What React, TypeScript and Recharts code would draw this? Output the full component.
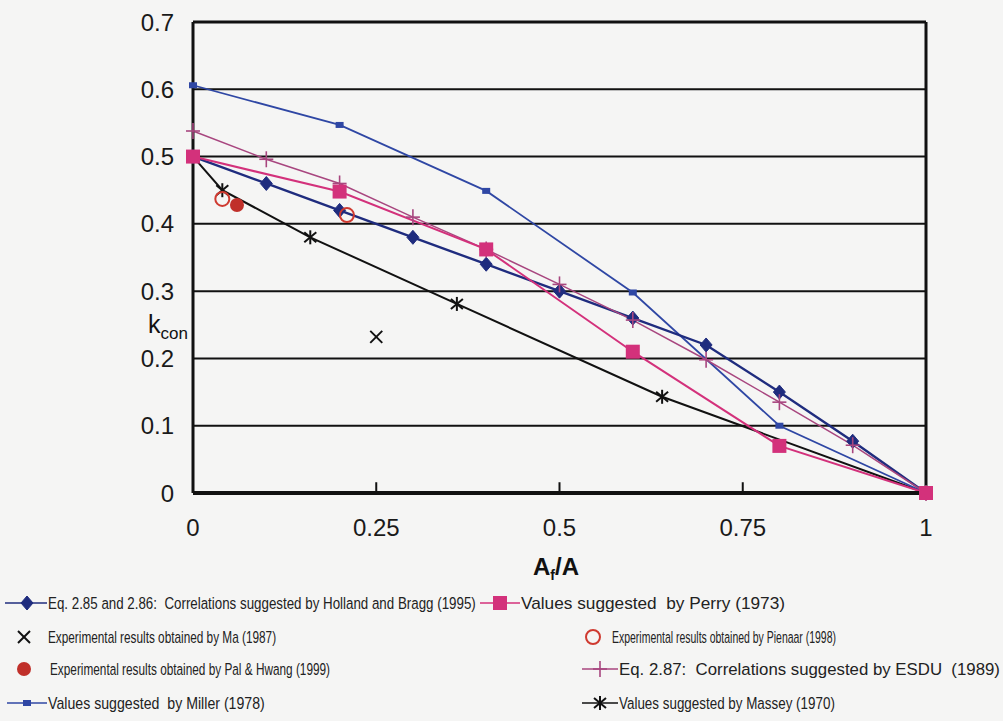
import React, { useLayoutEffect, useRef, useState } from "react";
import {
  ComposedChart,
  Line,
  Scatter,
  XAxis,
  YAxis,
  CartesianGrid,
  ReferenceLine,
} from "recharts";

// axis ticks
const X_TICKS = [0, 0.25, 0.5, 0.75, 1];
const Y_TICKS = [0, 0.1, 0.2, 0.3, 0.4, 0.5, 0.6, 0.7];

// A_f/A and k_con for each source
const hollandX = [0, 0.1, 0.2, 0.3, 0.4, 0.5, 0.6, 0.7, 0.8, 0.9, 1];
const hollandK = [0.5, 0.46, 0.42, 0.38, 0.34, 0.3, 0.26, 0.22, 0.15, 0.077, 0];

const esduX = [0, 0.1, 0.2, 0.3, 0.4, 0.5, 0.6, 0.7, 0.8, 0.9, 1];
const esduK = [0.538, 0.496, 0.46, 0.41, 0.362, 0.31, 0.257, 0.198, 0.135, 0.071, 0];

const perryX = [0, 0.2, 0.4, 0.6, 0.8, 1];
const perryK = [0.5, 0.448, 0.362, 0.21, 0.07, 0];

const millerX = [0, 0.2, 0.4, 0.6, 0.8, 1];
const millerK = [0.606, 0.547, 0.449, 0.298, 0.1, 0];

const masseyX = [0, 0.04, 0.16, 0.36, 0.64, 1];
const masseyK = [0.5, 0.45, 0.38, 0.281, 0.143, 0];

const maX = [0.25];
const maK = [0.232];

const pienaarX = [0.04, 0.21];
const pienaarK = [0.437, 0.413];

const palX = [0.06];
const palK = [0.428];

const toPoints = (xs: number[], ks: number[]) => xs.map((x, i) => ({ x, k: ks[i] }));

const NAVY = "#1f2c7e";
const BLUE = "#2f47a4";
const MAGENTA = "#d3317b";
const PINK = "#a8467f";
const RED = "#cf3a30";
const DARKRED = "#c0302a";
const BLACK = "#111";

const FONT = "'Liberation Sans', Arial, sans-serif";

type MarkerKind =
  | "diamond"
  | "square"
  | "smallSquare"
  | "plus"
  | "star"
  | "cross"
  | "circle"
  | "dot";

function Marker({ kind, x, y, color }: { kind: MarkerKind; x: number; y: number; color: string }) {
  switch (kind) {
    case "diamond":
      return (
        <polygon
          points={`${x},${y - 7} ${x + 6},${y} ${x},${y + 7} ${x - 6},${y}`}
          fill={color}
          stroke={color}
        />
      );
    case "square":
      return <rect x={x - 7} y={y - 7} width={14} height={14} fill={color} />;
    case "smallSquare":
      return <rect x={x - 4} y={y - 3} width={8} height={6} fill={color} />;
    case "plus":
      return (
        <g stroke={color} strokeWidth={1.6}>
          <line x1={x - 7} y1={y} x2={x + 7} y2={y} />
          <line x1={x} y1={y - 8} x2={x} y2={y + 8} />
        </g>
      );
    case "star":
      return (
        <g stroke={color} strokeWidth={2}>
          <line x1={x} y1={y - 7} x2={x} y2={y + 7} />
          <line x1={x - 6} y1={y - 5} x2={x + 6} y2={y + 5} />
          <line x1={x - 6} y1={y + 5} x2={x + 6} y2={y - 5} />
        </g>
      );
    case "cross":
      return (
        <g stroke={color} strokeWidth={2}>
          <line x1={x - 6} y1={y - 6} x2={x + 6} y2={y + 6} />
          <line x1={x - 6} y1={y + 6} x2={x + 6} y2={y - 6} />
        </g>
      );
    case "circle":
      return <circle cx={x} cy={y} r={7} fill="none" stroke={color} strokeWidth={2} />;
    case "dot":
      return <circle cx={x} cy={y} r={7} fill={color} />;
  }
}

const dotOf = (kind: MarkerKind, color: string) => (p: any) =>
  <Marker key={`${kind}-${p.index}`} kind={kind} x={p.cx} y={p.cy} color={color} />;

const shapeOf = (kind: MarkerKind, color: string) => (p: any) =>
  <Marker kind={kind} x={p.cx} y={p.cy} color={color} />;

// legend rows: text, marker, line segment, positions
const LEGEND = [
  { name: "Eq. 2.85 and 2.86:  Correlations suggested by Holland and Bragg (1995)", kind: "diamond" as MarkerKind, color: NAVY, line: [5, 47], mx: 27, tx: 48, tw: 428, row: 0 },
  { name: "Values suggested  by Perry (1973)", kind: "square" as MarkerKind, color: MAGENTA, line: [480, 520], mx: 500, tx: 521, tw: 264, row: 0 },
  { name: "Experimental results obtained by Ma (1987)", kind: "cross" as MarkerKind, color: BLACK, line: null, mx: 24, tx: 48, tw: 228, row: 1 },
  { name: "Experimental results obtained by Pienaar (1998)", kind: "circle" as MarkerKind, color: RED, line: null, mx: 593, tx: 612, tw: 224, row: 1 },
  { name: "Experimental results obtained by Pal & Hwang (1999)", kind: "dot" as MarkerKind, color: DARKRED, line: null, mx: 24, tx: 50, tw: 280, row: 2 },
  { name: "Eq. 2.87:  Correlations suggested by ESDU  (1989)", kind: "plus" as MarkerKind, color: PINK, line: [582, 618], mx: 600, tx: 619, tw: 381, row: 2 },
  { name: "Values suggested  by Miller (1978)", kind: "smallSquare" as MarkerKind, color: BLUE, line: [7, 47], mx: 27, tx: 48, tw: 217, row: 3 },
  { name: "Values suggested by Massey (1970)", kind: "star" as MarkerKind, color: BLACK, line: [582, 618], mx: 600, tx: 619, tw: 216, row: 3 },
];
const ROW_Y = [603, 637, 669, 703];

// condensed legend text: squeeze horizontally to the given width
function FitText({ x, y, width, text }: { x: number; y: number; width: number; text: string }) {
  const ref = useRef<SVGTextElement>(null);
  const [sx, setSx] = useState(0.75);
  useLayoutEffect(() => {
    const w = ref.current ? ref.current.getComputedTextLength() : 0;
    if (w > 0) setSx(width / w);
  }, [width, text]);
  return (
    <text
      ref={ref}
      transform={`translate(${x},${y}) scale(${sx},1)`}
      fontFamily={FONT}
      fontSize={17}
      fill="#222"
      style={{ whiteSpace: "pre" }}
    >
      {text}
    </text>
  );
}

function LegendBlock() {
  return (
    <svg
      width={1003}
      height={721}
      style={{ position: "absolute", left: 0, top: 0, pointerEvents: "none" }}
    >
      {LEGEND.map((it) => {
        const y = ROW_Y[it.row];
        return (
          <g key={it.name}>
            {it.line && (
              <line x1={it.line[0]} y1={y} x2={it.line[1]} y2={y} stroke={it.color} strokeWidth={1.6} />
            )}
            <Marker kind={it.kind} x={it.mx} y={y} color={it.color} />
            <FitText x={it.tx} y={y + 6} width={it.tw} text={it.name} />
          </g>
        );
      })}
    </svg>
  );
}

const YTitle = () => (
  <text x={148} y={333} fontFamily={FONT} fontSize={25} fill="#111">
    k
    <tspan fontSize={17} dy={6}>con</tspan>
  </text>
);

const XTitle = () => (
  <text x={533} y={575} fontFamily={FONT} fontSize={24} fontWeight="bold" fill="#111">
    A
    <tspan fontSize={14} dy={5}>f</tspan>
    <tspan dy={-5}>/A</tspan>
  </text>
);

export default function App() {
  const tickStyle = { fontFamily: FONT, fontSize: 24, fill: "#1a1a1a" };
  return (
    <div
      style={{
        position: "absolute",
        left: 0,
        top: 0,
        width: 1003,
        height: 721,
        background: "#f5f5f4",
        overflow: "hidden",
      }}
    >
      <ComposedChart
        width={1003}
        height={721}
        margin={{ top: 22, right: 77, bottom: 168, left: 113 }}
      >
        <CartesianGrid vertical={false} stroke={BLACK} strokeWidth={2} />
        <XAxis
          type="number"
          dataKey="x"
          domain={[0, 1]}
          ticks={X_TICKS}
          tickFormatter={(v: number) => String(v)}
          tick={tickStyle}
          tickLine={false}
          tickSize={0}
          tickMargin={26}
          height={60}
          axisLine={{ stroke: BLACK, strokeWidth: 4 }}
          label={{ content: () => <XTitle /> }}
        />
        <YAxis
          type="number"
          domain={[0, 0.7]}
          ticks={Y_TICKS}
          tickFormatter={(v: number) => String(v)}
          tick={tickStyle}
          tickLine={false}
          tickSize={0}
          tickMargin={19}
          width={80}
          axisLine={{ stroke: BLACK, strokeWidth: 3 }}
          label={{ content: () => <YTitle /> }}
        />
        <ReferenceLine y={0.7} stroke={BLACK} strokeWidth={3} />
        <ReferenceLine x={1} stroke={BLACK} strokeWidth={3} />
        {[0.25, 0.5, 0.75].map((t) => (
          <ReferenceLine
            key={t}
            segment={[{ x: t, y: 0 }, { x: t, y: 0.016 }]}
            stroke={BLACK}
            strokeWidth={2}
          />
        ))}

        <Line
          name="Massey (1970)"
          data={toPoints(masseyX, masseyK)}
          dataKey="k"
          stroke={BLACK}
          strokeWidth={2}
          dot={dotOf("star", BLACK)}
          isAnimationActive={false}
        />
        <Line
          name="Miller (1978)"
          data={toPoints(millerX, millerK)}
          dataKey="k"
          stroke={BLUE}
          strokeWidth={1.8}
          dot={dotOf("smallSquare", BLUE)}
          isAnimationActive={false}
        />
        <Line
          name="Holland and Bragg (1995)"
          data={toPoints(hollandX, hollandK)}
          dataKey="k"
          stroke={NAVY}
          strokeWidth={2.4}
          dot={dotOf("diamond", NAVY)}
          isAnimationActive={false}
        />
        <Line
          name="ESDU (1989)"
          data={toPoints(esduX, esduK)}
          dataKey="k"
          stroke={PINK}
          strokeWidth={1.5}
          dot={dotOf("plus", PINK)}
          isAnimationActive={false}
        />
        <Line
          name="Perry (1973)"
          data={toPoints(perryX, perryK)}
          dataKey="k"
          stroke={MAGENTA}
          strokeWidth={2}
          dot={dotOf("square", MAGENTA)}
          isAnimationActive={false}
        />
        <Scatter
          name="Ma (1987)"
          data={toPoints(maX, maK)}
          dataKey="k"
          shape={shapeOf("cross", BLACK)}
          isAnimationActive={false}
        />
        <Scatter
          name="Pienaar (1998)"
          data={toPoints(pienaarX, pienaarK)}
          dataKey="k"
          shape={shapeOf("circle", RED)}
          isAnimationActive={false}
        />
        <Scatter
          name="Pal & Hwang (1999)"
          data={toPoints(palX, palK)}
          dataKey="k"
          shape={shapeOf("dot", DARKRED)}
          isAnimationActive={false}
        />
      </ComposedChart>
      <LegendBlock />
    </div>
  );
}
